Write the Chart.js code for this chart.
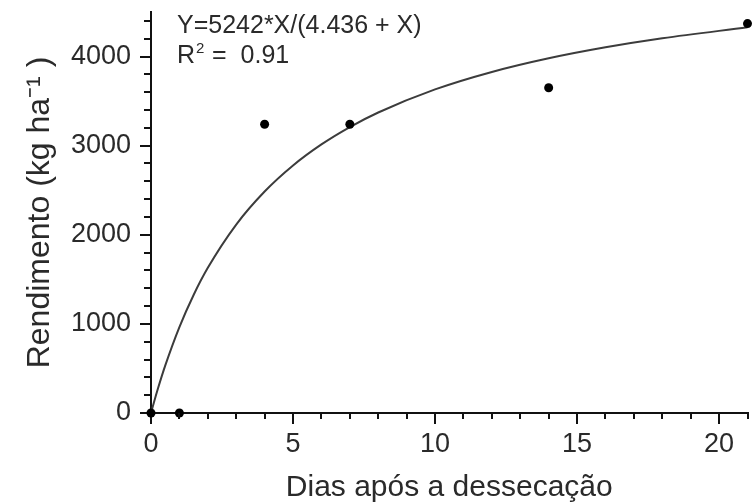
<!DOCTYPE html>
<html>
<head>
<meta charset="utf-8">
<script src="https://cdn.jsdelivr.net/npm/chart.js@4/dist/chart.umd.min.js"></script>
<style>
  html, body { margin: 0; padding: 0; background: #fff; overflow: hidden; }
  canvas { display: block; }
</style>
</head>
<body>
<canvas id="rendimentoChart" width="752" height="504"></canvas>
<script>
// observed yield
const obsDays = [0, 1, 4, 7, 14, 21];
const obsYield = [0, 0, 3240, 3240, 3650, 4370];

// fitted curve Y=5242*X/(4.436 + X), sampled
const fitDays = [0, 0.1, 0.25, 0.5, 1, 1.5, 2, 3, 4, 5, 6, 7, 8, 10, 12, 14, 16, 18, 21];
const fitYield = [0, 115.6, 279.7, 531.0, 964.3, 1324.6, 1629.0, 2114.8, 2485.5, 2777.7, 3013.8,
  3208.6, 3372.1, 3631.2, 3827.2, 3980.7, 4104.1, 4205.6, 4327.8];

const xMajorTicks = [0, 5, 10, 15, 20];
const xMinorTicks = [1, 2, 3, 4, 6, 7, 8, 9, 11, 12, 13, 14, 16, 17, 18, 19, 21];
const yMajorTicks = [0, 1000, 2000, 3000, 4000];
const yMinorTicks = [200, 400, 600, 800, 1200, 1400, 1600, 1800, 2200, 2400, 2600, 2800,
  3200, 3400, 3600, 3800, 4200, 4400];

const equationText = "Y=5242*X/(4.436 + X)";
const r2Value = "0.91";

const FONT = "'Liberation Sans', Arial, sans-serif";
const INK = "#111";
const TEXT = "#2a2a2a";

const minorTicksPlugin = {
  id: "minorTicks",
  afterDraw(chart) {
    const { ctx, scales } = chart;
    const x = scales.x;
    const y = scales.y;
    ctx.save();
    ctx.strokeStyle = INK;
    ctx.lineWidth = 2;
    ctx.beginPath();
    xMinorTicks.forEach((v) => {
      const px = Math.round(x.getPixelForValue(v));
      ctx.moveTo(px, y.bottom);
      ctx.lineTo(px, y.bottom + 6);
    });
    yMinorTicks.forEach((v) => {
      const py = Math.round(y.getPixelForValue(v));
      ctx.moveTo(x.left, py);
      ctx.lineTo(x.left - 7, py);
    });
    ctx.stroke();
    ctx.restore();
  }
};

const equationPlugin = {
  id: "equation",
  afterDraw(chart) {
    const { ctx } = chart;
    ctx.save();
    ctx.fillStyle = TEXT;
    ctx.textBaseline = "alphabetic";
    ctx.font = `25px ${FONT}`;
    ctx.fillText(equationText, 177, 33);
    ctx.fillText("R", 177, 63);
    const rw = ctx.measureText("R").width;
    ctx.font = `15px ${FONT}`;
    ctx.fillText("2", 177 + rw + 1, 53);
    ctx.font = `25px ${FONT}`;
    ctx.fillText("=  " + r2Value, 177 + rw + 17, 63);
    ctx.restore();
  }
};

function keepTicks(list) {
  return (scale) => {
    scale.ticks = list.map((v) => ({ value: v }));
  };
}

new Chart(document.getElementById("rendimentoChart"), {
  type: "scatter",
  data: {
    datasets: [
      {
        label: "Ajuste",
        data: fitDays.map((d, i) => ({ x: d, y: fitYield[i] })),
        showLine: true,
        borderColor: "#3c3c3c",
        borderWidth: 2,
        pointRadius: 0,
        cubicInterpolationMode: "monotone",
        clip: false,
        order: 2
      },
      {
        label: "Observado",
        data: obsDays.map((d, i) => ({ x: d, y: obsYield[i] })),
        backgroundColor: "#000",
        borderColor: "#000",
        pointRadius: 4.5,
        borderWidth: 0,
        clip: false,
        order: 1
      }
    ]
  },
  options: {
    responsive: false,
    animation: false,
    layout: { padding: { top: 12, right: 0, left: 0, bottom: 0 } },
    plugins: {
      legend: { display: false },
      tooltip: { enabled: false }
    },
    scales: {
      x: {
        type: "linear",
        min: 0,
        max: 21,
        afterBuildTicks: keepTicks(xMajorTicks),
        afterFit: (scale) => {
          scale.height = 91;
          scale.paddingLeft = 0;
          scale.paddingRight = 0;
        },
        border: { display: true, color: INK, width: 2 },
        grid: { drawOnChartArea: false, drawTicks: true, tickLength: 11, color: INK, lineWidth: 2 },
        ticks: {
          color: TEXT,
          font: { family: FONT, size: 27 },
          padding: 4,
          maxRotation: 0,
          callback: (v) => String(v)
        },
        title: {
          display: true,
          text: "Dias após a dessecação",
          color: TEXT,
          font: { family: FONT, size: 30 },
          padding: { top: 0, bottom: -2 }
        }
      },
      y: {
        type: "linear",
        min: 0,
        max: 4500,
        afterBuildTicks: keepTicks(yMajorTicks),
        afterFit: (scale) => {
          scale.width = 151;
          scale.paddingTop = 0;
          scale.paddingBottom = 0;
        },
        border: { display: true, color: INK, width: 2 },
        grid: { drawOnChartArea: false, drawTicks: true, tickLength: 11, color: INK, lineWidth: 2 },
        ticks: {
          color: TEXT,
          font: { family: FONT, size: 27 },
          padding: 9,
          callback: (v) => String(v)
        },
        title: {
          display: true,
          text: "Rendimento (kg ha⁻¹ )",
          color: TEXT,
          font: { family: FONT, size: 32 },
          padding: { top: 21, bottom: 0 }
        }
      }
    }
  },
  plugins: [minorTicksPlugin, equationPlugin]
});
</script>
</body>
</html>
